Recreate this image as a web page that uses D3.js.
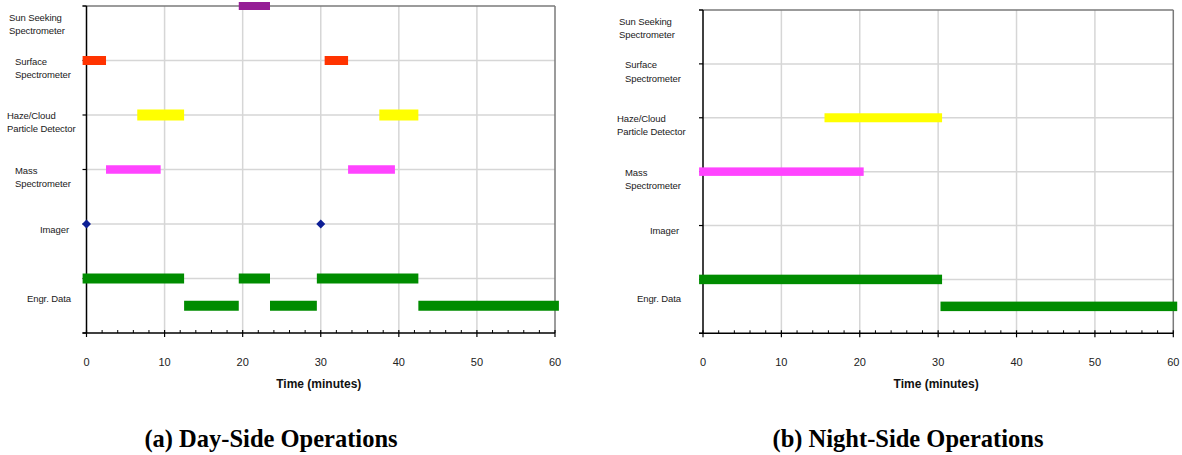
<!DOCTYPE html>
<html>
<head>
<meta charset="utf-8">
<script src="https://cdn.jsdelivr.net/npm/d3@7"></script>
<style>
  body { margin: 0; background: #fff; }
  svg { display: block; }
</style>
</head>
<body>
<svg id="chart" width="1182" height="455"></svg>
<script>
// ---------- data ----------
const categories = ["Sun Seeking\nSpectrometer", "Surface\nSpectrometer", "Haze/Cloud\nParticle Detector", "Mass\nSpectrometer", "Imager", "Engr. Data"];
const categoryLevels = [6, 5, 4, 3, 2, 1];          // row value on the y scale (0..6)
const labelLevels = [5.67, 4.86, 3.87, 2.86, 1.9, 0.64];
const xTicks = [0, 10, 20, 30, 40, 50, 60];
const xMinorTicks = d3.range(0, 61, 2);
const yTicks = [0, 1, 2, 3, 4, 5, 6];
const xAxisTitle = "Time (minutes)";
const captions = ["(a) Day-Side Operations", "(b) Night-Side Operations"];

// Day-side intervals (minutes): [start, end]
const daySun = [[19.5, 23.5]];
const daySurface = [[-0.5, 2.5], [30.5, 33.5]];
const dayHaze = [[6.5, 12.5], [37.5, 42.5]];
const dayMass = [[2.5, 9.5], [33.5, 39.5]];
const dayImager = [0, 30];
const dayEngrUpper = [[-0.5, 12.5], [19.5, 23.5], [29.5, 42.5]];
const dayEngrLower = [[12.5, 19.5], [23.5, 29.5], [42.5, 60.5]];

// Night-side intervals
const nightSun = [];
const nightSurface = [];
const nightHaze = [[15.5, 30.5]];
const nightMass = [[-0.5, 20.5]];
const nightImager = [];
const nightEngrUpper = [[-0.5, 30.5]];
const nightEngrLower = [[30.3, 60.5]];

const engrLowerLevel = 0.5;

// ---------- styles ----------
const colors = { sun: "#961e96", surface: "#ff3300", haze: "#ffff00", mass: "#ff44ff", imager: "#0d1f96", engr: "#008c00" };
const labelXOffsets = [9, 15, 7, 15, 40, 27];

const svg = d3.select("#chart");

function drawPanel(p) {
  const x = d3.scaleLinear().domain([0, 60]).range([p.left, p.right]);
  const y = d3.scaleLinear().domain([0, 6]).range([p.bottom, p.top]);
  const g = svg.append("g");

  // gridlines horizontal
  g.selectAll(".hg").data(yTicks.filter(d => d > 0 && d < 6)).join("line")
    .attr("x1", p.left).attr("x2", p.right)
    .attr("y1", d => y(d)).attr("y2", d => y(d))
    .attr("stroke", "#d6d6d6").attr("stroke-width", 1.5);
  // gridlines vertical
  g.selectAll(".vg").data(xTicks.filter(d => d > 0 && d < 60)).join("line")
    .attr("x1", d => x(d)).attr("x2", d => x(d))
    .attr("y1", p.top).attr("y2", p.bottom)
    .attr("stroke", "#d6d6d6").attr("stroke-width", 1.5);

  // top & right border
  g.append("line").attr("x1", x(0) - 4).attr("x2", p.right).attr("y1", p.top).attr("y2", p.top)
    .attr("stroke", "#7a7a7a").attr("stroke-width", 1.5);
  g.append("line").attr("x1", p.right).attr("x2", p.right).attr("y1", p.top).attr("y2", p.bottom)
    .attr("stroke", "#7a7a7a").attr("stroke-width", 1.5);

  // y axis
  g.append("line").attr("x1", x(0)).attr("x2", x(0)).attr("y1", p.top).attr("y2", p.bottom)
    .attr("stroke", "#000").attr("stroke-width", 1.5);
  g.selectAll(".yt").data(yTicks).join("line")
    .attr("x1", x(0) - 4).attr("x2", x(0))
    .attr("y1", d => y(d)).attr("y2", d => y(d))
    .attr("stroke", "#000").attr("stroke-width", 1.2);

  // x axis
  g.append("line").attr("x1", x(0) - 4).attr("x2", p.right).attr("y1", p.bottom).attr("y2", p.bottom)
    .attr("stroke", "#000").attr("stroke-width", 1.5);
  g.selectAll(".xmt").data(xMinorTicks.filter(d => d % 10 !== 0)).join("line")
    .attr("x1", d => x(d)).attr("x2", d => x(d))
    .attr("y1", p.bottom - 3).attr("y2", p.bottom)
    .attr("stroke", "#000").attr("stroke-width", 1);
  g.selectAll(".xt").data(xTicks).join("line")
    .attr("x1", d => x(d)).attr("x2", d => x(d))
    .attr("y1", p.bottom - 3).attr("y2", p.bottom + 4)
    .attr("stroke", "#000").attr("stroke-width", 1.2);
  g.selectAll(".xl").data(xTicks).join("text")
    .attr("x", d => x(d)).attr("y", p.bottom + 33)
    .attr("text-anchor", "middle")
    .attr("font-family", "Liberation Sans, Arial, sans-serif")
    .attr("font-size", 11).attr("fill", "#222")
    .text(d => d);
  g.append("text")
    .attr("x", (p.left + p.right) / 2 - 2).attr("y", p.bottom + 55)
    .attr("text-anchor", "middle")
    .attr("font-family", "Liberation Sans, Arial, sans-serif")
    .attr("font-weight", "bold").attr("font-size", 12).attr("fill", "#111")
    .text(xAxisTitle);

  // category labels
  categories.forEach((c, i) => {
    const lines = c.split("\n");
    const t = g.append("text")
      .attr("font-family", "Liberation Sans, Arial, sans-serif")
      .attr("font-size", 9.5).attr("letter-spacing", -0.1).attr("fill", "#1a1a1a");
    const cy = y(labelLevels[i]);
    const lh = 13.5;
    lines.forEach((ln, k) => {
      t.append("tspan")
        .attr("x", p.labelX + labelXOffsets[i])
        .attr("y", cy + (k - (lines.length - 1) / 2) * lh + 3.5)
        .text(ln);
    });
  });

  // bars
  function bars(data, level, color, h) {
    g.append("g").selectAll("rect").data(data).join("rect")
      .attr("x", d => x(d[0]))
      .attr("width", d => x(d[1]) - x(d[0]))
      .attr("y", y(level) - h / 2)
      .attr("height", h)
      .attr("fill", color);
  }
  bars(p.sun, categoryLevels[0], colors.sun, 8);
  bars(p.surface, categoryLevels[1], colors.surface, 9);
  bars(p.haze, categoryLevels[2], colors.haze, p.hazeH);
  bars(p.mass, categoryLevels[3], colors.mass, 8.5);
  bars(p.engrUpper, categoryLevels[5], colors.engr, p.engrH);
  bars(p.engrLower, engrLowerLevel, colors.engr, p.engrH);

  // imager diamonds
  g.append("g").selectAll("path").data(p.imager).join("path")
    .attr("transform", d => `translate(${x(d)},${y(categoryLevels[4])})`)
    .attr("d", "M0,-4.5L4.5,0L0,4.5L-4.5,0Z")
    .attr("fill", colors.imager);

  // caption
  svg.append("text")
    .attr("x", p.captionX).attr("y", 447)
    .attr("text-anchor", "middle")
    .attr("font-family", "Liberation Serif, Times New Roman, serif")
    .attr("font-weight", "bold").attr("font-size", 24.5).attr("fill", "#000")
    .text(p.caption);
}

drawPanel({
  left: 86.5, right: 555, top: 6, bottom: 333, labelX: 0, captionX: 271,
  caption: captions[0], hazeH: 11, engrH: 10,
  sun: daySun, surface: daySurface, haze: dayHaze, mass: dayMass, imager: dayImager,
  engrUpper: dayEngrUpper, engrLower: dayEngrLower
});
drawPanel({
  left: 703, right: 1173.3, top: 10, bottom: 333.3, labelX: 610, captionX: 908,
  caption: captions[1], hazeH: 9, engrH: 9.5,
  sun: nightSun, surface: nightSurface, haze: nightHaze, mass: nightMass, imager: nightImager,
  engrUpper: nightEngrUpper, engrLower: nightEngrLower
});
</script>
</body>
</html>
